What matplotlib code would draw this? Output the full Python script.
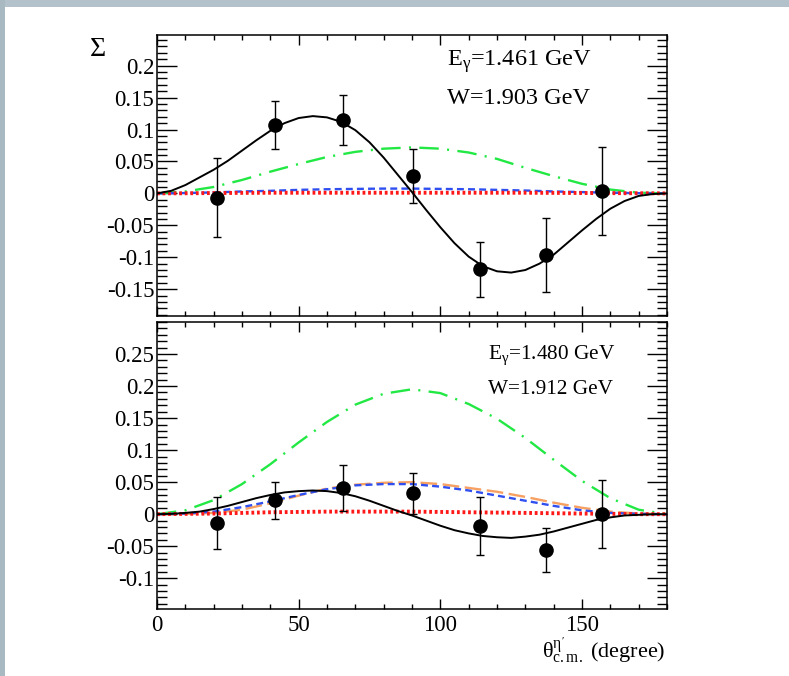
import matplotlib
matplotlib.use("Agg")
import matplotlib.pyplot as plt
from matplotlib.patches import Rectangle
from matplotlib.ticker import MultipleLocator, FuncFormatter

plt.rcParams['font.family'] = ['Liberation Serif', 'DejaVu Serif']
plt.rcParams['mathtext.fontset'] = 'custom'
plt.rcParams['mathtext.rm'] = 'Liberation Serif'
plt.rcParams['mathtext.it'] = 'Liberation Serif:italic'
plt.rcParams['mathtext.bf'] = 'Liberation Serif:bold'
plt.rcParams['lines.scale_dashes'] = False

# ---------------- data ----------------
theta_pts = [21.2, 41.7, 65.7, 90.4, 114.1, 137.4, 157.2]

top_sigma = [-0.007, 0.107, 0.115, 0.027, -0.119, -0.097, 0.004]
top_err = [0.062, 0.037, 0.039, 0.042, 0.043, 0.058, 0.069]

bot_sigma = [-0.014, 0.022, 0.041, 0.033, -0.018, -0.056, 0.000]
bot_err = [0.041, 0.029, 0.036, 0.032, 0.045, 0.035, 0.053]

theta_5 = [0, 5, 10, 15, 20, 25, 30, 35, 40, 45, 50, 55, 60, 65, 70, 75, 80, 85, 90,
           95, 100, 105, 110, 115, 120, 125, 130, 135, 140, 145, 150, 155, 160, 165,
           170, 175, 180]
theta_10 = [0, 10, 20, 30, 40, 50, 60, 70, 80, 90, 100, 110, 120, 130, 140, 150, 160, 170, 180]

# top panel curves (E=1.461 GeV)
top_black = [0, 0.004, 0.013, 0.025, 0.037, 0.051, 0.067, 0.083, 0.098, 0.110, 0.118,
             0.121, 0.119, 0.112, 0.099, 0.080, 0.056, 0.029, 0.002, -0.026, -0.053,
             -0.078, -0.099, -0.114, -0.122, -0.124, -0.120, -0.110, -0.096, -0.077,
             -0.058, -0.040, -0.024, -0.012, -0.004, -0.001, 0]
top_green = [0, 0.003, 0.010, 0.021, 0.034, 0.046, 0.057, 0.065, 0.070, 0.072, 0.070,
             0.064, 0.054, 0.040, 0.027, 0.015, 0.006, 0.001, 0]
top_blue = [0, 0.0005, 0.0015, 0.003, 0.004, 0.0055, 0.0065, 0.007, 0.0075, 0.0075,
            0.007, 0.0065, 0.0055, 0.0045, 0.003, 0.002, 0.001, 0.0003, 0]
top_red = [0, 0.0002, 0.0005, 0.0008, 0.001, 0.001, 0.001, 0.001, 0.001, 0.001, 0.001,
           0.001, 0.001, 0.001, 0.0008, 0.0006, 0.0004, 0.0002, 0]

# bottom panel curves (E=1.480 GeV)
bot_black = [0, 0.0005, 0.002, 0.004, 0.008, 0.013, 0.019, 0.025, 0.030, 0.034, 0.036,
             0.037, 0.036, 0.033, 0.028, 0.021, 0.013, 0.005, -0.002, -0.010, -0.018,
             -0.025, -0.030, -0.034, -0.036, -0.037, -0.035, -0.032, -0.027, -0.021,
             -0.015, -0.009, -0.005, -0.002, -0.001, 0, 0]
bot_green = [0, 0.006, 0.022, 0.047, 0.078, 0.112, 0.144, 0.171, 0.188, 0.195, 0.189,
             0.172, 0.149, 0.119, 0.085, 0.052, 0.025, 0.007, 0]
bot_blue = [0, 0.001, 0.004, 0.011, 0.020, 0.030, 0.039, 0.045, 0.047, 0.047, 0.043,
            0.037, 0.029, 0.021, 0.013, 0.006, 0.002, 0.0005, 0]
bot_orange = [0, 0.0005, 0.002, 0.007, 0.017, 0.029, 0.040, 0.046, 0.049, 0.050, 0.047,
              0.041, 0.035, 0.027, 0.018, 0.010, 0.004, 0.001, 0]
bot_red = [0, 0.0005, 0.001, 0.002, 0.003, 0.0035, 0.004, 0.004, 0.004, 0.004, 0.0035,
           0.003, 0.0025, 0.002, 0.0015, 0.001, 0.0005, 0, 0]

top_ticks = [0.2, 0.15, 0.1, 0.05, 0, -0.05, -0.1, -0.15]
bot_ticks = [0.25, 0.2, 0.15, 0.1, 0.05, 0, -0.05, -0.1]
x_ticks = [0, 50, 100, 150]

# ---------------- styles ----------------
C_GREEN = '#22e844'
C_BLUE = '#2f4ff0'
C_RED = '#ff1818'
C_ORANGE = '#f6a062'
LW = 1.4

fig = plt.figure(figsize=(7.89, 6.76), dpi=100)
fig.patch.set_facecolor('white')
# slide-like border strips
fig.patches.append(Rectangle((0, 1 - 7 / 676), 1, 7 / 676, transform=fig.transFigure,
                             facecolor='#b3c2ca', edgecolor='none', zorder=0))
fig.patches.append(Rectangle((0, 0), 5 / 789, 1, transform=fig.transFigure,
                             facecolor='#a9b9c2', edgecolor='none', zorder=0))

left = 157 / 789
width = (667 - 157) / 789
ax1 = fig.add_axes([left, 1 - 316 / 676, width, (316 - 35) / 676])
ax2 = fig.add_axes([left, 1 - 609 / 676, width, (609 - 322) / 676])


def fmt(v, pos):
    s = ('%.2f' % v).rstrip('0').rstrip('.')
    if s in ('-0', ''):
        s = '0'
    return s


def style(ax, yticks, ylim, show_x):
    ax.set_xlim(0, 180)
    ax.set_ylim(*ylim)
    ax.set_yticks(yticks)
    ax.yaxis.set_major_formatter(FuncFormatter(fmt))
    ax.yaxis.set_minor_locator(MultipleLocator(0.01))
    ax.set_xticks(x_ticks)
    ax.xaxis.set_minor_locator(MultipleLocator(10))
    ax.tick_params(axis='both', which='both', direction='in', top=True, right=True,
                   width=1.0, labelsize=16.5)
    ax.tick_params(axis='y', which='major', length=14.5, pad=2)
    ax.tick_params(axis='y', which='minor', length=7.2)
    ax.tick_params(axis='x', which='major', length=7.5, pad=4)
    ax.tick_params(axis='x', which='minor', length=3.8)
    if not show_x:
        ax.tick_params(axis='x', labelbottom=False)
    for sp in ax.spines.values():
        sp.set_linewidth(1.1)


def draw(ax, curves, pts, errs):
    for th, vals, color, ls, lw in curves:
        ax.plot(th, vals, color=color, linestyle=ls, linewidth=lw, zorder=2)
    ax.errorbar(theta_pts, pts, yerr=errs, fmt='o', color='black', markersize=9.5,
                elinewidth=1.0, capsize=3, capthick=1.0, zorder=4)


GREEN_LS = (0, (14, 6, 1.5, 6))
BLUE_LS = (0, (5, 3))
RED_LS = (0, (2.0, 2.0))
ORANGE_LS = (0, (12, 4))

draw(ax1, [
    (theta_10, top_green, C_GREEN, GREEN_LS, 1.7),
    (theta_10, top_blue, C_BLUE, BLUE_LS, 1.7),
    (theta_10, top_red, C_RED, RED_LS, 2.8),
    (theta_5, top_black, 'black', '-', LW),
], top_sigma, top_err)

draw(ax2, [
    (theta_10, bot_green, C_GREEN, GREEN_LS, 1.7),
    (theta_10, bot_orange, C_ORANGE, ORANGE_LS, 1.7),
    (theta_10, bot_blue, C_BLUE, BLUE_LS, 1.7),
    (theta_10, bot_red, C_RED, RED_LS, 2.8),
    (theta_5, bot_black, 'black', '-', LW),
], bot_sigma, bot_err)

style(ax1, top_ticks, (-0.192, 0.248), False)
style(ax2, bot_ticks, (-0.148, 0.300), True)

ax1.text(0.569, 0.905, r'$\mathrm{E}_{\mathrm{\gamma}}$=1.461 GeV', transform=ax1.transAxes,
         fontsize=17.5, ha='left', va='center')
ax1.text(0.569, 0.775, 'W=1.903 GeV', transform=ax1.transAxes,
         fontsize=17.5, ha='left', va='center')
ax2.text(0.65, 0.885, r'$\mathrm{E}_{\mathrm{\gamma}}$=1.480 GeV', transform=ax2.transAxes,
         fontsize=15.3, ha='left', va='center')
ax2.text(0.65, 0.765, 'W=1.912 GeV', transform=ax2.transAxes,
         fontsize=15.3, ha='left', va='center')

fig.text(97 / 789, 1 - 50 / 676, r'$\mathrm{\Sigma}$', fontsize=20, ha='center', va='center')
fig.text(665 / 789, 1 - 650 / 676, r"$\mathrm{\theta}^{\mathrm{\eta}'}_{\mathrm{c.m.}}$ (degree)",
         fontsize=16, ha='right', va='center')

fig.savefig('out.png', dpi=100)
